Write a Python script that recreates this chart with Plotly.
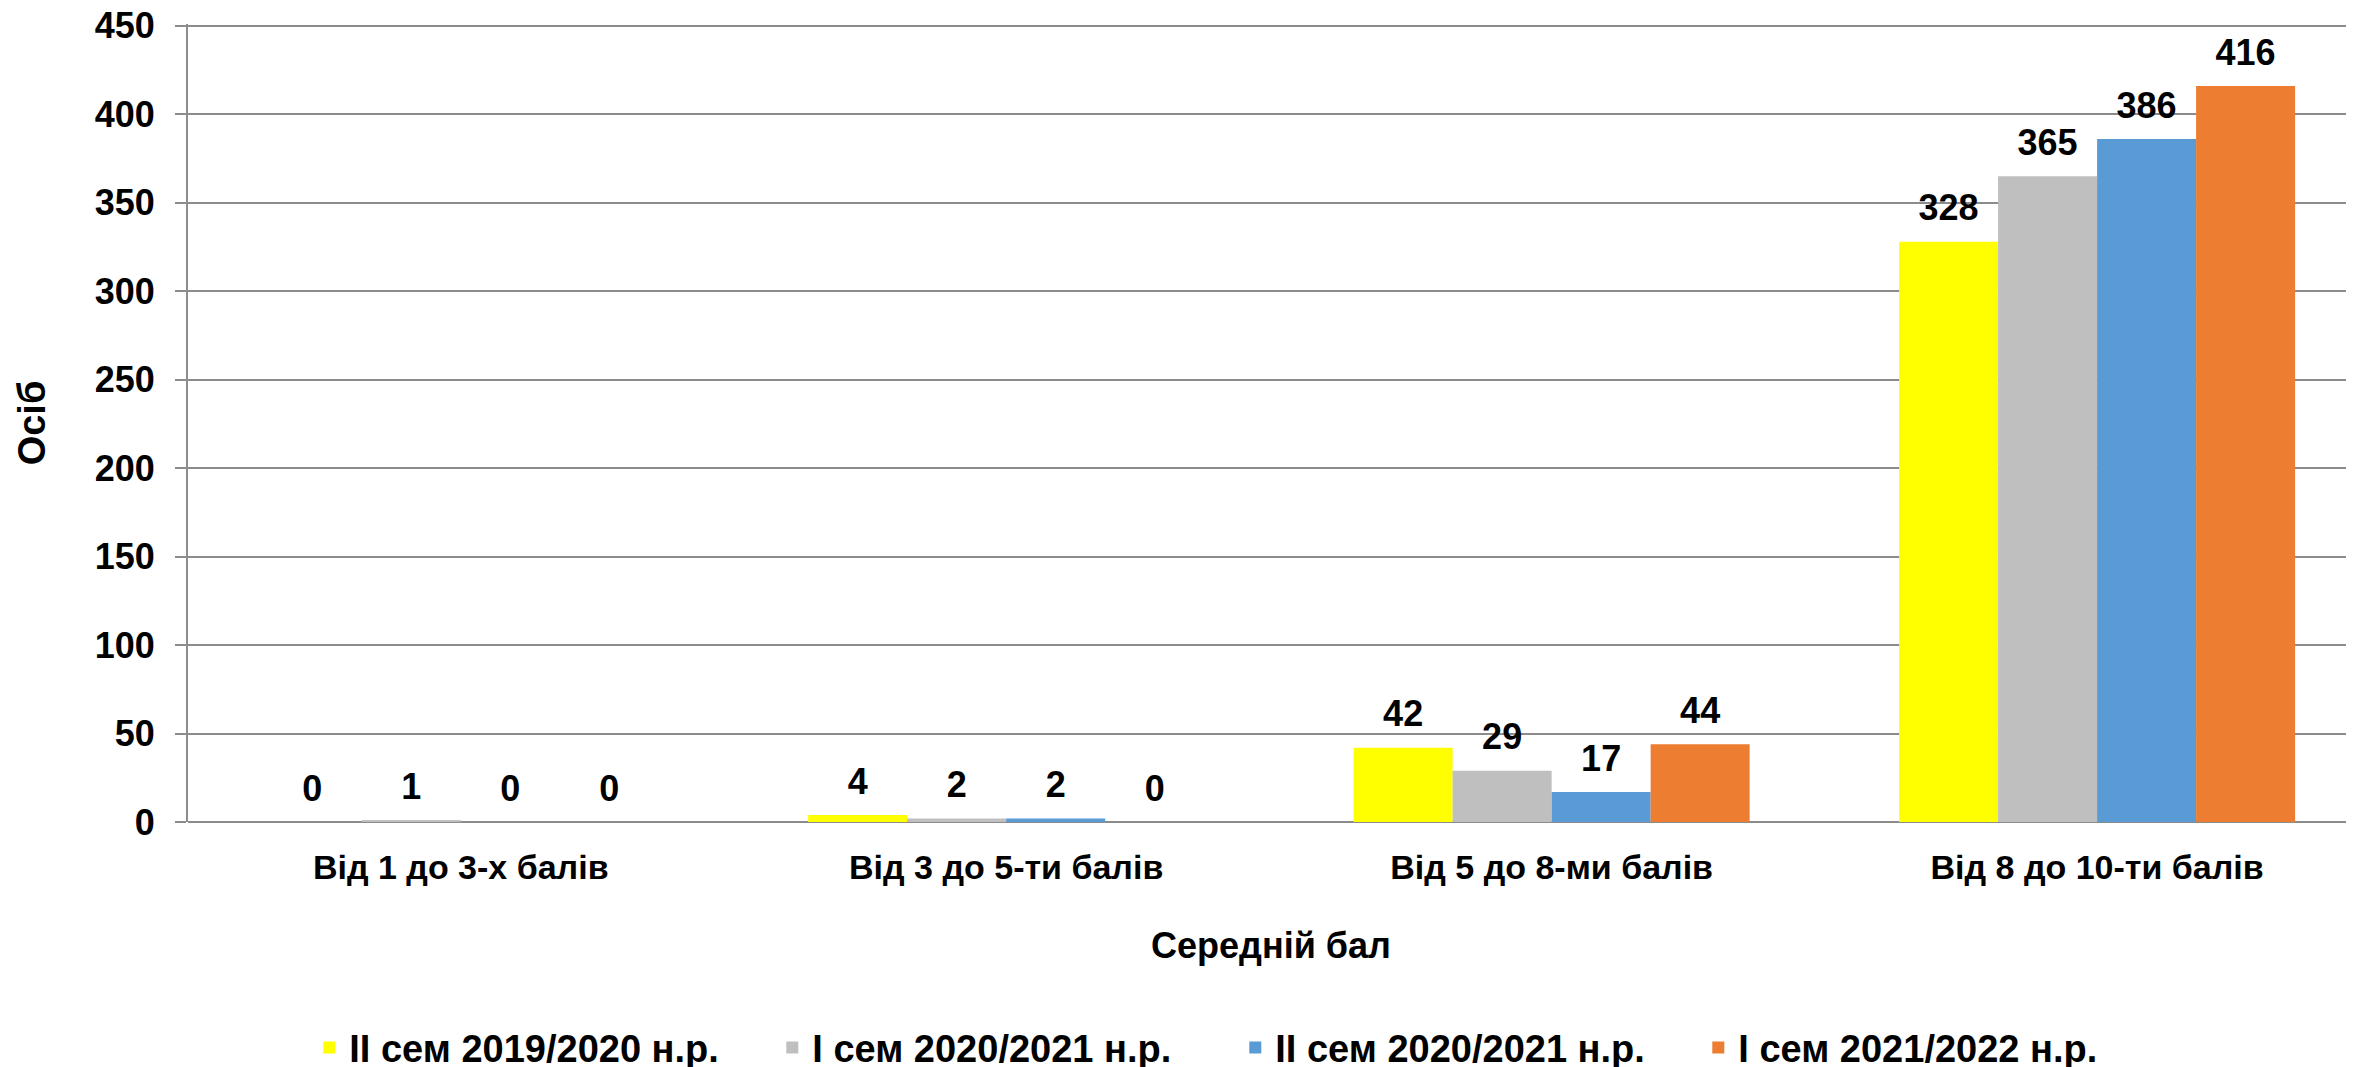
import plotly.graph_objects as go

# Data
categories = ["Від 1 до 3-х балів", "Від 3 до 5-ти балів", "Від 5 до 8-ми балів", "Від 8 до 10-ти балів"]
series_names = ["ІІ сем 2019/2020 н.р.", "І сем 2020/2021 н.р.", "ІІ сем 2020/2021 н.р.", "І сем 2021/2022 н.р."]
sem2_2019 = [0, 4, 42, 328]
sem1_2020 = [1, 2, 29, 365]
sem2_2020 = [0, 2, 17, 386]
sem1_2021 = [0, 0, 44, 416]
colors = ["#FFFF00", "#BFBFBF", "#5B9BD5", "#ED7D31"]

FONT = "Liberation Sans, Arial, sans-serif"
GRID = "#8C8C8C"

fig = go.Figure()
all_series = [sem2_2019, sem1_2020, sem2_2020, sem1_2021]
for i, (name, vals, col) in enumerate(zip(series_names, all_series, colors)):
    fig.add_bar(
        x=categories, y=vals, name="<b>%s</b>" % name, offsetgroup=str(i),
        marker=dict(color=col, line=dict(width=0)),
    )

# value labels above the bars, grouped the same way
for i, vals in enumerate(all_series):
    fig.add_scatter(
        x=categories, y=vals, offsetgroup=str(i),
        mode="markers+text", marker=dict(size=18, opacity=0),
        text=["<b>%d</b>" % v for v in vals], textposition="top center",
        textfont=dict(family=FONT, size=36, color="black"),
        showlegend=False, hoverinfo="skip", cliponaxis=False,
    )

# page has an 8px body margin, so margins are shifted by that
# (y range a hair above 450 so the top gridline isn't dropped at the edge)
fig.update_layout(
    width=2354, height=1067,
    paper_bgcolor="white", plot_bgcolor="white",
    barmode="group", bargap=0.274, bargroupgap=0,
    scattermode="group", scattergap=0.274,
    margin=dict(l=180, r=8, t=16, b=253, autoexpand=False),
    font=dict(family=FONT, color="black"),
    legend=dict(
        orientation="h", x=0.056, xanchor="left", y=-0.283, yanchor="middle",
        font=dict(family=FONT, size=38, color="black"),
        entrywidth=418, itemwidth=30,
    ),
    xaxis=dict(
        range=[-0.5, 3.471],
        showgrid=False, showline=False, ticks="",
        tickfont=dict(family=FONT, size=34, color="black"),
        tickvals=categories, ticktext=["<b>%s</b>" % c for c in categories],
        ticklabelstandoff=22,
        title=dict(text="<b>Середній бал</b>", font=dict(family=FONT, size=36, color="black"), standoff=47),
    ),
    yaxis=dict(
        range=[0, 451], dtick=50,
        showgrid=True, gridcolor=GRID, gridwidth=2,
        showline=True, linecolor=GRID, linewidth=2,
        ticks="outside", ticklen=11, tickwidth=2, tickcolor=GRID,
        tickfont=dict(family=FONT, size=36, color="black"),
        tickprefix="<b>", ticksuffix="</b>",
        ticklabelstandoff=13, ticklabeloverflow="allow",
        zeroline=True, zerolinecolor=GRID, zerolinewidth=2,
        title=dict(text="<b>Осіб</b>", font=dict(family=FONT, size=38, color="black"), standoff=37),
    ),
)

fig.write_html("out.html")
